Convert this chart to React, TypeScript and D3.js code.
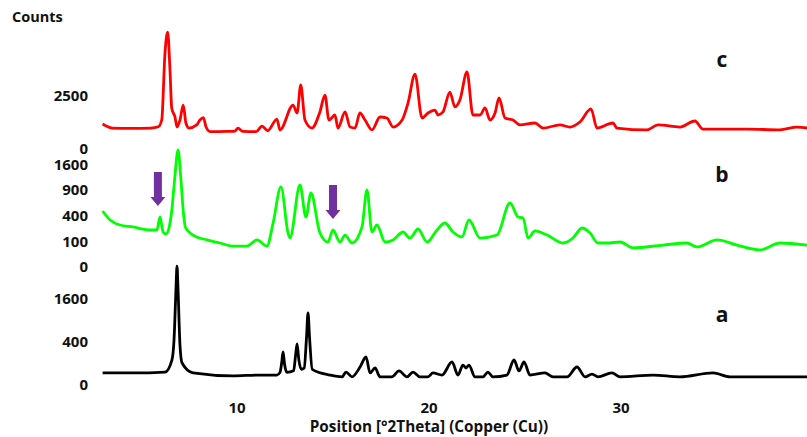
import React from 'react';
import * as d3 from 'd3';

const W = 807;
const H = 437;

// [2Theta, counts]
const patternC: [number, number][] = [
  [3.0, 600], [3.5, 430], [4.5, 420], [5.5, 430], [5.9, 480], [6.08, 800], [6.25, 8370],
  [6.39, 12390], [6.51, 5700], [6.6, 1570], [6.77, 970], [6.88, 470], [7.03, 800], [7.2, 1800],
  [7.34, 650], [7.5, 430], [7.9, 560], [8.07, 800], [8.25, 930], [8.39, 470], [8.6, 300],
  [9.5, 310], [9.9, 320], [10.05, 430], [10.3, 310], [11.0, 300], [11.3, 510], [11.6, 330],
  [12.08, 850], [12.24, 360], [12.92, 1800], [13.13, 1220], [13.32, 3760], [13.54, 800],
  [13.9, 430], [14.32, 1290], [14.58, 2690], [14.79, 800], [15.1, 1090], [15.26, 430],
  [15.63, 1290], [15.89, 470], [16.15, 430], [16.4, 1220], [16.67, 800], [17.03, 360],
  [17.45, 970], [17.81, 910], [18.13, 470], [18.6, 800], [18.91, 1970], [19.27, 5140],
  [19.64, 910], [19.95, 1220], [20.31, 1420], [20.47, 1090], [20.73, 1290], [21.09, 2990],
  [21.35, 1650], [21.61, 2230], [21.98, 5420], [22.29, 1090], [22.66, 1090], [22.92, 1570],
  [23.18, 800], [23.44, 1220], [23.65, 2410], [23.96, 910], [24.38, 800], [24.74, 560],
  [25.52, 650], [25.94, 430], [26.82, 560], [27.34, 470], [27.86, 700], [28.44, 1500],
  [28.75, 430], [29.58, 650], [29.79, 430], [31.35, 360], [31.93, 560], [33.07, 470],
  [33.85, 750], [34.27, 390], [36.56, 390], [38.28, 360], [39.17, 470], [39.7, 430],
];

const patternB: [number, number][] = [
  [3.0, 500], [3.39, 354], [3.9, 284], [4.58, 259], [5.47, 222], [5.83, 222], [5.99, 400],
  [6.15, 199], [6.3, 178], [6.45, 240], [6.6, 500], [6.75, 1200], [6.93, 2141], [7.08, 1200],
  [7.2, 500], [7.32, 250], [7.71, 167], [8.44, 121], [9.11, 96], [9.79, 74], [10.52, 74],
  [11.04, 121], [11.56, 74], [11.88, 311], [12.29, 1009], [12.66, 188], [12.76, 138],
  [13.28, 1059], [13.59, 400], [13.85, 865], [14.32, 188], [14.74, 104], [15.0, 222],
  [15.36, 104], [15.63, 167], [15.99, 96], [16.51, 259], [16.77, 936], [17.03, 199],
  [17.29, 284], [17.71, 104], [18.13, 121], [18.65, 199], [19.01, 138], [19.43, 234],
  [19.9, 104], [20.42, 222], [20.83, 311], [21.25, 199], [21.72, 148], [22.08, 354],
  [22.66, 138], [23.54, 167], [24.22, 650], [24.64, 400], [24.9, 384], [25.16, 138],
  [25.52, 211], [26.15, 167], [26.98, 96], [27.5, 138], [27.97, 246], [28.39, 188],
  [28.8, 96], [29.27, 96], [29.95, 104], [30.63, 62], [32.19, 81], [33.44, 96], [33.96, 68],
  [35.0, 121], [36.04, 81], [37.24, 50], [38.28, 96], [39.69, 81],
];

const patternA: [number, number][] = [
  [3.0, 37], [4.58, 37], [6.25, 42], [6.61, 146], [6.72, 458], [6.82, 1994], [6.875, 3100],
  [6.93, 1994], [7.03, 364], [7.14, 114], [7.71, 37], [9.79, 22], [11.09, 26], [12.08, 26],
  [12.24, 40], [12.33, 120], [12.4, 250], [12.48, 100], [12.6, 40], [12.95, 50], [13.05, 200],
  [13.13, 382], [13.22, 150], [13.35, 60], [13.5, 70], [13.62, 500], [13.7, 1153], [13.78, 500],
  [13.92, 60], [14.84, 26], [15.47, 18], [15.68, 42], [15.99, 18], [16.41, 78], [16.72, 182],
  [16.93, 37], [17.19, 70], [17.45, 18], [18.07, 18], [18.44, 49], [18.85, 18], [19.17, 42],
  [19.53, 18], [19.95, 18], [20.21, 37], [20.68, 26], [21.2, 125], [21.51, 26], [21.77, 95],
  [21.93, 70], [22.08, 95], [22.4, 18], [22.81, 18], [23.07, 42], [23.33, 18], [24.06, 26],
  [24.43, 146], [24.69, 49], [24.95, 125], [25.26, 26], [26.04, 37], [26.46, 18], [27.19, 18],
  [27.71, 78], [28.13, 18], [28.49, 31], [28.8, 18], [29.53, 37], [29.95, 18], [31.67, 26],
  [33.07, 18], [34.79, 37], [35.68, 18], [38.28, 18], [39.69, 18],
];

const xTicks = [10, 20, 30];
const cTicks = [0, 2500];
const bTicks = [0, 100, 400, 900, 1600];
const aTicks = [0, 400, 1600];

// small peaks marked in pattern b: [2Theta, counts at the peak]
const arrowMarks: [number, number][] = [[5.88, 400], [15.0, 222]];

const font = "'Open Sans', 'Noto Sans', sans-serif";

const x = d3.scaleLinear().domain([3, 39.7]).range([102.6, 807.2]);

const panels = [
  { name: 'c', data: patternC, ticks: cTicks, color: '#ff0000', y: d3.scaleSqrt().domain([0, 12400]).range([150, 32]), labelY: 61 },
  { name: 'b', data: patternB, ticks: bTicks, color: '#00ff00', y: d3.scaleSqrt().domain([0, 2140]).range([268, 150]), labelY: 176 },
  { name: 'a', data: patternA, ticks: aTicks, color: '#000000', y: d3.scaleSqrt().domain([0, 3010]).range([386, 268]), labelY: 316 },
];

export default function App() {
  const yB = panels[1].y;
  return (
    <div style={{ position: 'absolute', left: 0, top: 0 }}>
      <svg width={W} height={H} style={{ display: 'block', background: '#fff' }} fontFamily={font}>
        <text x={12} y={18} dominantBaseline="middle" fontSize={14.5} fontWeight="bold" fill="#111">Counts</text>

        {panels.map(p => {
          const line = d3.line<[number, number]>()
            .x(d => x(d[0]))
            .y(d => p.y(d[1]))
            .curve(d3.curveMonotoneX);
          return (
            <g key={p.name}>
              {p.ticks.map(t => (
                <text key={t} x={88} y={p.y(t)} textAnchor="end" dominantBaseline="middle"
                  fontSize={15} fontWeight="bold" fill="#111">{t}</text>
              ))}
              <path d={line(p.data) || ''} fill="none" stroke={p.color} strokeWidth={2.8}
                strokeLinejoin="round" />
              <text x={722} y={p.labelY} textAnchor="middle" dominantBaseline="middle"
                fontSize={21} fontWeight="bold" fill="#111">{p.name}</text>
            </g>
          );
        })}

        {arrowMarks.map(([t, c], i) => {
          const cx = x(t);
          const tip = yB(c) - 11;
          const top = tip - 34;
          const hs = tip - 9;
          const pts = [
            [cx - 4, top], [cx + 4, top], [cx + 4, hs], [cx + 7.5, hs],
            [cx, tip], [cx - 7.5, hs], [cx - 4, hs],
          ].map(q => q.join(',')).join(' ');
          return <polygon key={i} points={pts} fill="#7030a0" />;
        })}

        {xTicks.map(t => (
          <text key={t} x={x(t)} y={409} textAnchor="middle" dominantBaseline="middle"
            fontSize={15} fontWeight="bold" fill="#111">{t}</text>
        ))}
        <text x={429} y={428} textAnchor="middle" dominantBaseline="middle" fontSize={15.3}
          fontWeight="bold" fill="#111">Position [°2Theta] (Copper (Cu))</text>
      </svg>
    </div>
  );
}
